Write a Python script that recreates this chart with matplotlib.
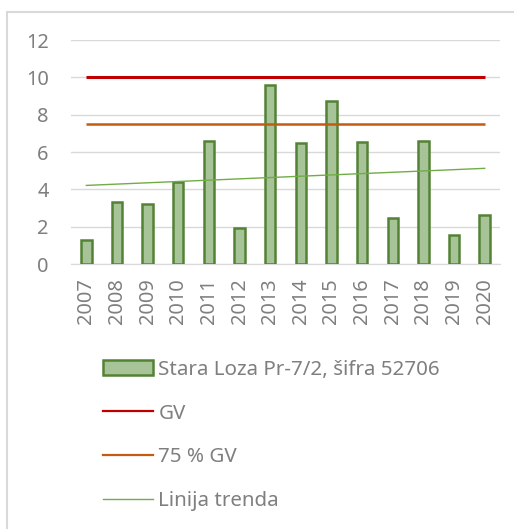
import numpy as np
import matplotlib
matplotlib.use("Agg")
import matplotlib.pyplot as plt
from matplotlib.patches import Rectangle, Patch
from matplotlib.lines import Line2D

years = ["2007", "2008", "2009", "2010", "2011", "2012", "2013",
         "2014", "2015", "2016", "2017", "2018", "2019", "2020"]
values = [1.3, 3.3, 3.2, 4.4, 6.6, 1.95, 9.6, 6.46, 8.73, 6.55, 2.48, 6.6, 1.55, 2.62]
gv = 10.0
gv75 = 7.5
series_label = "Stara Loza Pr-7/2, šifra 52706"
legend_labels = ["GV", "75 % GV", "Linija trenda"]
yticks = [0, 2, 4, 6, 8, 10, 12]

plt.rcParams['font.family'] = ['Noto Sans', 'DejaVu Sans']
txt = '#7F7F7F'

fig = plt.figure(figsize=(5.14, 5.29), dpi=100)
W, H = 514, 529
ax = fig.add_axes([71 / W, 1 - 264 / H, (500 - 71) / W, (264 - 40) / H])

x = np.arange(len(years))
ax.bar(x, values, width=0.34, color='#A7C398', edgecolor='#548235', linewidth=1.8, zorder=3)
ax.plot([x[0], x[-1]], [gv, gv], color='#C00000', lw=2.2, zorder=4, solid_capstyle='butt')
ax.plot([x[0], x[-1]], [gv75, gv75], color='#C55A11', lw=1.8, zorder=4, solid_capstyle='butt')
k, b = np.polyfit(x, values, 1)
ax.plot([x[0], x[-1]], [k * x[0] + b, k * x[-1] + b], color='#70AD47', lw=1.0, zorder=5)

ax.set_xlim(-0.5, len(years) - 0.5)
ax.set_ylim(0, 12)
ax.set_yticks(yticks)
ax.set_xticks(x)
ax.set_xticklabels(years, rotation=90)
ax.tick_params(axis='y', length=0, pad=16, labelsize=14.4, labelcolor=txt)
ax.tick_params(axis='x', length=0, pad=10, labelsize=14.4, labelcolor=txt)
ax.grid(axis='y', color='#D9D9D9', lw=1.0, zorder=0)
for s in ['top', 'right', 'left']:
    ax.spines[s].set_visible(False)
ax.spines['bottom'].set_color('#D9D9D9')
ax.set_axisbelow(True)

handles = [
    Patch(facecolor='#A7C398', edgecolor='#548235', linewidth=1.8),
    Line2D([], [], color='#C00000', lw=1.6),
    Line2D([], [], color='#C55A11', lw=1.6),
    Line2D([], [], color='#70AD47', lw=1.0),
]
leg = fig.legend(handles, [series_label] + legend_labels,
                 loc='upper left', bbox_to_anchor=(103 / W, 1 - 360 / H),
                 frameon=False, fontsize=14.8, labelcolor=txt,
                 handlelength=2.45, handleheight=0.75, handletextpad=0.25,
                 labelspacing=1.15, borderpad=0, borderaxespad=0)

fig.patches.append(Rectangle((7 / W, -0.1), 2, 1 - 12 / H + 0.1,
                             transform=fig.transFigure, fill=False,
                             edgecolor='#D9D9D9', lw=1.5))

fig.savefig('out.png', dpi=100)
